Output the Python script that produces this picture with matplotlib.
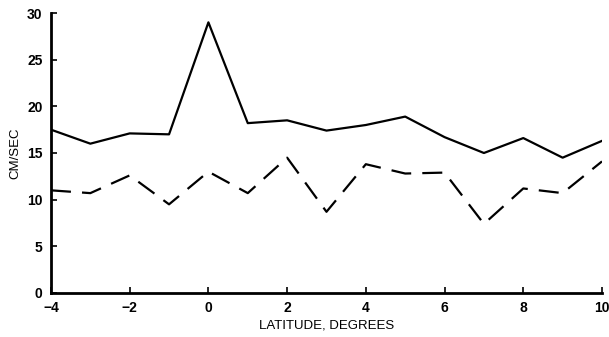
import matplotlib.pyplot as plt

plt.rcParams['font.family'] = ['Liberation Sans', 'DejaVu Sans']

latitude = [-4, -3, -2, -1, 0, 1, 2, 3, 4, 5, 6, 7, 8, 9, 10]
speed_solid = [17.5, 16.0, 17.1, 17.0, 29.0, 18.2, 18.5, 17.4, 18.0, 18.9, 16.7, 15.0, 16.6, 14.5, 16.3]
speed_dashed = [11.0, 10.7, 12.6, 9.5, 13.0, 10.7, 14.5, 8.7, 13.8, 12.8, 12.9, 7.4, 11.2, 10.7, 14.1]

xticks = [-4, -2, 0, 2, 4, 6, 8, 10]
yticks = [0, 5, 10, 15, 20, 25, 30]

fig = plt.figure(figsize=(6.09, 3.37), dpi=100)
ax = fig.add_axes([0.0837, 0.1306, 0.9048, 0.8308])

ax.plot(latitude, speed_solid, color='black', linewidth=1.6)
ax.plot(latitude, speed_dashed, color='black', linewidth=1.6, dashes=(9, 5))

ax.set_xlim(-4, 10)
ax.set_ylim(0, 30)
ax.set_xticks(xticks)
ax.set_yticks(yticks)
ax.set_xticklabels([str(t).replace('-', '\u2212') for t in xticks])

for side in ['top', 'right']:
    ax.spines[side].set_visible(False)
for side in ['left', 'bottom']:
    ax.spines[side].set_linewidth(2)

ax.tick_params(direction='in', length=4, width=1.2, labelsize=10)
ax.tick_params(axis='x', pad=6)
ax.tick_params(axis='y', pad=6)
for lbl in ax.get_xticklabels() + ax.get_yticklabels():
    lbl.set_fontweight('bold')

ax.set_xlabel('LATITUDE, DEGREES', fontsize=9.5, labelpad=3)
ax.set_ylabel('CM/SEC', fontsize=9.5, labelpad=4)

plt.savefig('out.png', dpi=100)
